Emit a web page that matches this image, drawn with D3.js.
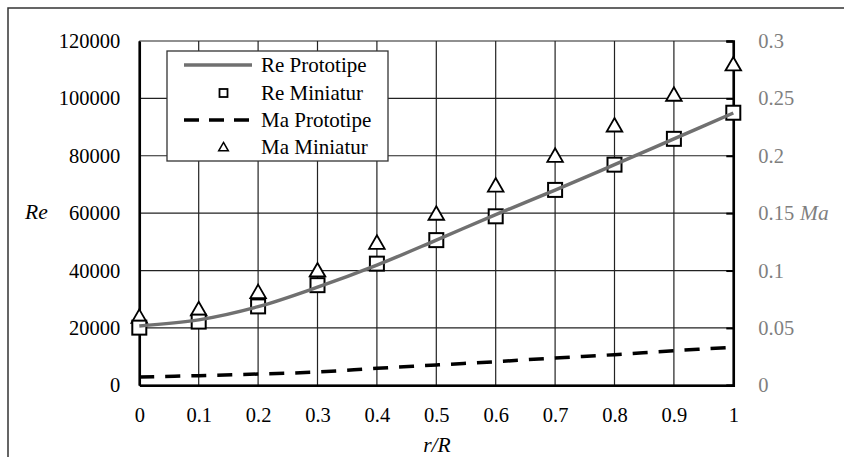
<!DOCTYPE html>
<html>
<head>
<meta charset="utf-8">
<script src="https://cdn.jsdelivr.net/npm/d3@7"></script>
<style>
  body { margin: 0; background: #fff; }
</style>
</head>
<body>
<div class="container"></div>
<script>
// r/R positions
var rR = [0, 0.1, 0.2, 0.3, 0.4, 0.5, 0.6, 0.7, 0.8, 0.9, 1];
// Re prototype (smooth line) and Re miniature (squares)
var reProto = [20700, 22800, 27400, 34200, 41900, 50600, 59500, 68000, 76900, 85900, 94900];
var reMini = [20100, 22200, 27500, 34900, 42400, 50600, 58900, 68100, 76900, 85900, 95000];
// Ma prototype (dashed) and Ma miniature (triangles)
var maProto = [0.0072, 0.0084, 0.0098, 0.0116, 0.0148, 0.0177, 0.0206, 0.0238, 0.0267, 0.0302, 0.0331];
var maMini = [0.0601, 0.0667, 0.0816, 0.1005, 0.1246, 0.1499, 0.1745, 0.2004, 0.2268, 0.2536, 0.2800];
var xTicks = [0, 0.1, 0.2, 0.3, 0.4, 0.5, 0.6, 0.7, 0.8, 0.9, 1];
var reTicks = [0, 20000, 40000, 60000, 80000, 100000, 120000];
var maTicks = [0, 0.05, 0.1, 0.15, 0.2, 0.25, 0.3];

var width = 844, height = 457;
var plot = {left: 139.3, right: 733.3, top: 41, bottom: 385.3};
var fs = 20.5;
var grey = "#7f7f7f";
var serif = "'Liberation Serif', 'DejaVu Serif', serif";

var svg = d3.select(".container").append("svg")
    .attr("width", width).attr("height", height)
    .style("font-family", serif);

// outer frame
svg.append("rect").attr("x", 8).attr("y", 8).attr("width", 900).attr("height", 500)
    .attr("fill", "none").attr("stroke", "#333").attr("stroke-width", 1.5);

var x = d3.scaleLinear().domain([0, 1]).range([plot.left, plot.right]);
var yRe = d3.scaleLinear().domain([0, 120000]).range([plot.bottom, plot.top]);
var yMa = d3.scaleLinear().domain([0, 0.3]).range([plot.bottom, plot.top]);

// grid
var grid = svg.append("g");
grid.selectAll(".hg").data(reTicks).enter().append("line")
    .attr("x1", plot.left).attr("x2", plot.right)
    .attr("y1", d => yRe(d)).attr("y2", d => yRe(d))
    .attr("stroke", "#222").attr("stroke-width", 1.2);
grid.selectAll(".vg").data(xTicks).enter().append("line")
    .attr("x1", d => x(d)).attr("x2", d => x(d))
    .attr("y1", plot.top).attr("y2", plot.bottom)
    .attr("stroke", "#222").attr("stroke-width", 1.2);

// axes
var xAxis = d3.axisBottom(x).tickValues(xTicks).tickSize(0).tickPadding(22)
    .tickFormat(d => String(+d.toFixed(1)));
var gx = svg.append("g").attr("transform", "translate(0," + plot.bottom + ")").call(xAxis);
gx.attr("font-family", null);
gx.select(".domain").attr("stroke", "#000").attr("stroke-width", 2.5);
gx.selectAll("text").style("font-family", serif).style("font-size", fs + "px").attr("fill", "#000");

var yAxisL = d3.axisLeft(yRe).tickValues(reTicks).tickSize(0).tickPadding(19).tickFormat(d3.format("d"));
var gl = svg.append("g").attr("transform", "translate(" + plot.left + ",0)").call(yAxisL);
gl.attr("font-family", null);
gl.select(".domain").attr("stroke", "#000").attr("stroke-width", 2.5);
gl.selectAll("text").style("font-family", serif).style("font-size", fs + "px").attr("fill", "#000");

var yAxisR = d3.axisRight(yMa).tickValues(maTicks).tickSize(-7).tickPadding(25)
    .tickFormat(d => String(+d.toFixed(2)));
var gr = svg.append("g").attr("transform", "translate(" + plot.right + ",0)").call(yAxisR);
gr.attr("font-family", null);
gr.select(".domain").attr("stroke", "#000").attr("stroke-width", 2.5);
gr.selectAll("line").attr("stroke", "#000").attr("stroke-width", 2);
gr.selectAll("text").style("font-family", serif).style("font-size", fs + "px").attr("fill", grey);

// axis titles
svg.append("text").attr("x", 25).attr("y", 219).style("font-size", (fs + 1) + "px")
    .style("font-style", "italic").text("Re");
svg.append("text").attr("x", 800).attr("y", 220).style("font-size", (fs + 1) + "px")
    .style("font-style", "italic").attr("fill", grey).text("Ma");
svg.append("text").attr("x", 437).attr("y", 452).style("font-size", (fs + 1) + "px")
    .style("font-style", "italic").attr("text-anchor", "middle").text("r/R");

var tri = d3.symbol().type(d3.symbolTriangle).size(105);

// Ma miniatur triangles
svg.selectAll(".tri").data(maMini).enter().append("path")
    .attr("d", tri)
    .attr("transform", (d, i) => "translate(" + x(rR[i]) + "," + (yMa(d) + 2) + ")")
    .attr("fill", "#fff").attr("stroke", "#000").attr("stroke-width", 1.8);

// Re miniatur squares
svg.selectAll(".sq").data(reMini).enter().append("rect")
    .attr("x", (d, i) => x(rR[i]) - 7).attr("y", d => yRe(d) - 7)
    .attr("width", 14).attr("height", 14)
    .attr("fill", "#fff").attr("stroke", "#000").attr("stroke-width", 2);

// Re prototipe line
var lineRe = d3.line().x((d, i) => x(rR[i])).y(d => yRe(d)).curve(d3.curveCatmullRom.alpha(0.5));
svg.append("path").datum(reProto).attr("d", lineRe)
    .attr("fill", "none").attr("stroke", "#707070").attr("stroke-width", 3.5);

// Ma prototipe dashed line
var lineMa = d3.line().x((d, i) => x(rR[i])).y(d => yMa(d)).curve(d3.curveCatmullRom.alpha(0.5));
svg.append("path").datum(maProto).attr("d", lineMa)
    .attr("fill", "none").attr("stroke", "#000").attr("stroke-width", 3.5)
    .attr("stroke-dasharray", "15,11");

// legend
var lg = svg.append("g");
lg.append("rect").attr("x", 167).attr("y", 51).attr("width", 221).attr("height", 110)
    .attr("fill", "#fff").attr("stroke", "#333").attr("stroke-width", 1.3);
var rows = [65, 93, 120, 147];
var labels = ["Re Prototipe", "Re Miniatur", "Ma Prototipe", "Ma Miniatur"];
lg.append("line").attr("x1", 184).attr("x2", 252).attr("y1", rows[0]).attr("y2", rows[0])
    .attr("stroke", "#707070").attr("stroke-width", 3.5);
lg.append("rect").attr("x", 219.5).attr("y", rows[1] - 4).attr("width", 8).attr("height", 8)
    .attr("fill", "#fff").attr("stroke", "#000").attr("stroke-width", 1.8);
lg.append("line").attr("x1", 184).attr("x2", 252).attr("y1", rows[2]).attr("y2", rows[2])
    .attr("stroke", "#000").attr("stroke-width", 3.5).attr("stroke-dasharray", "15,10");
lg.append("path").attr("d", d3.symbol().type(d3.symbolTriangle).size(40))
    .attr("transform", "translate(223.5," + (rows[3] + 1) + ")")
    .attr("fill", "#fff").attr("stroke", "#000").attr("stroke-width", 1.5);
lg.selectAll(".lt").data(labels).enter().append("text")
    .attr("x", 261).attr("y", (d, i) => rows[i] + 7)
    .style("font-size", (fs + 0.5) + "px").text(d => d);
</script>
</body>
</html>
